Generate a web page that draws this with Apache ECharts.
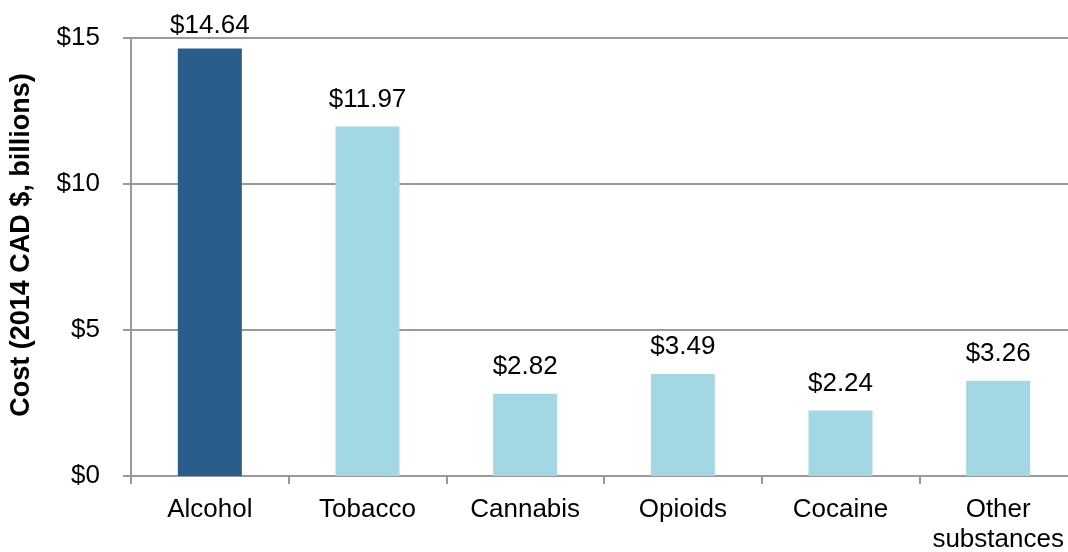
<!DOCTYPE html>
<html>
<head>
<meta charset="utf-8">
<script src="https://cdn.jsdelivr.net/npm/echarts@6/dist/echarts.min.js"></script>
<style>
    html, body { margin: 0; padding: 0; background: #fff; }
    #chart { width: 1068px; height: 552px; }
</style>
</head>
<body>
<div id="chart"></div>
<script>
// categories and costs (2014 CAD $, billions)
const categories = ['Alcohol', 'Tobacco', 'Cannabis', 'Opioids', 'Cocaine', 'Other\nsubstances'];
const costs = [14.64, 11.97, 2.82, 3.49, 2.24, 3.26];
const yTicks = [0, 5, 10, 15];

const darkBlue = '#285d8c';
const lightBlue = '#a3d7e4';
const font = 'Liberation Sans, Arial';

const myChart = echarts.init(document.getElementById('chart'));

const option = {
    animation: false,
    grid: {
        left: 131,
        top: 38,
        width: 946,
        height: 438,
        outerBoundsMode: 'none',
        containLabel: false,
    },
    xAxis: {
        type: 'category',
        data: categories,
        axisLine: { lineStyle: { color: '#999', width: 2 } },
        axisTick: { show: true, interval: 0, length: 8, lineStyle: { color: '#999', width: 2 } },
        axisLabel: {
            interval: 0,
            color: '#000',
            fontFamily: font,
            fontSize: 26,
            lineHeight: 30,
            margin: 19,
        },
    },
    yAxis: {
        type: 'value',
        min: yTicks[0],
        max: yTicks[yTicks.length - 1],
        interval: 5,
        name: 'Cost (2014 CAD $, billions)',
        nameLocation: 'middle',
        nameGap: 96,
        nameTextStyle: {
            color: '#000',
            fontFamily: font,
            fontSize: 27,
            fontWeight: 'bold',
            padding: [0, 0, 0, 24],
        },
        axisLine: { show: true, lineStyle: { color: '#999', width: 2 } },
        axisTick: { show: true, length: 8, lineStyle: { color: '#999', width: 2 } },
        splitLine: { lineStyle: { color: '#999', width: 2 } },
        axisLabel: {
            color: '#000',
            fontFamily: font,
            fontSize: 26,
            margin: 31,
            formatter: v => '$' + v,
        },
    },
    series: [
        {
            type: 'bar',
            barWidth: 64,
            data: costs.map((v, i) => ({
                value: v,
                itemStyle: { color: i === 0 ? darkBlue : lightBlue },
                label: i === 0 ? { distance: 10 } : undefined,
            })),
            label: {
                show: true,
                position: 'top',
                distance: 14,
                color: '#000',
                fontFamily: font,
                fontSize: 26,
                formatter: p => '$' + p.value.toFixed(2),
            },
        },
    ],
};

myChart.setOption(option);
</script>
</body>
</html>
